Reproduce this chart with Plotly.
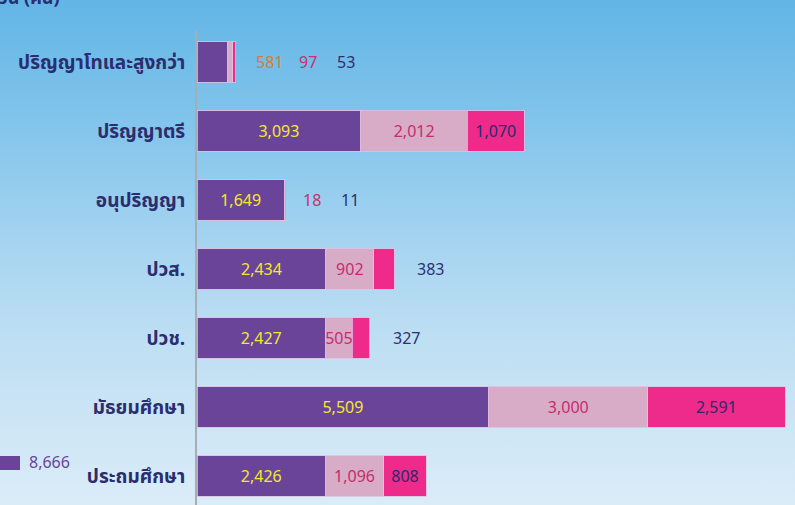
import base64
import plotly.graph_objects as go

categories = ["ปริญญาโทและสูงกว่า", "ปริญญาตรี", "อนุปริญญา", "ปวส.", "ปวช.", "มัธยมศึกษา", "ประถมศึกษา"]
series1 = [581, 3093, 1649, 2434, 2427, 5509, 2426]
series2 = [97, 2012, 18, 902, 505, 3000, 1096]
series3 = [53, 1070, 11, 383, 327, 2591, 808]
legend_value = 8666
axis_title = "จำนวน (คน)"

# labels drawn outside the bar end: (row, series)
outside = {(0, 0), (0, 1), (0, 2), (2, 1), (2, 2), (3, 2), (4, 2)}

bar_colors = ["#6a4499", "#d8abc7", "#ee2a8a"]
inside_text_colors = ["#f3e92e", "#c42e6e", "#2b2a6b"]
outside_text_colors = ["#d97a38", "#c8306c", "#2e3070"]
num_font = "Noto Sans, DejaVu Sans, sans-serif"
thai_font = "Noto Sans Thai, Noto Sans Thai Looped, Loma, Garuda, Tahoma, Noto Sans, sans-serif"

W, H = 795, 505
L, T = 197, 30
pw, ph = W - L, H - T

fig = go.Figure()
all_series = [series1, series2, series3]
for si, vals in enumerate(all_series):
    texts = ["" if (ri, si) in outside else f"{v:,}" for ri, v in enumerate(vals)]
    fig.add_trace(go.Bar(
        y=categories, x=vals, orientation="h",
        marker=dict(color=bar_colors[si], line=dict(color="rgba(225,190,225,0.8)", width=1)),
        text=texts, textposition="inside", insidetextanchor="middle",
        textangle=0, constraintext="none",
        textfont=dict(color=inside_text_colors[si], size=16, family=num_font),
        hoverinfo="skip", showlegend=False,
    ))

# outside labels, placed after the bar end
totals = [a + b + c for a, b, c in zip(series1, series2, series3)]
base_shift = {0: 34, 2: 26, 3: 36, 4: 37}
for ri in range(len(categories)):
    k = 0
    for si in range(3):
        if (ri, si) in outside:
            fig.add_annotation(
                x=totals[ri], y=categories[ri], xref="x", yref="y",
                text=f"{all_series[si][ri]:,}", showarrow=False,
                xanchor="center", xshift=base_shift.get(ri, 34) + 38 * k,
                font=dict(color=outside_text_colors[si], size=16, family=num_font),
            )
            k += 1

# gradient background as svg image
svg = f"""<svg xmlns='http://www.w3.org/2000/svg' width='{W}' height='{H}'>
<defs><linearGradient id='g' x1='0' y1='0' x2='0' y2='1'>
<stop offset='0' stop-color='#62b5e6'/>
<stop offset='0.27' stop-color='#86c6ec'/>
<stop offset='0.5' stop-color='#a8d5f1'/>
<stop offset='0.68' stop-color='#bfdff3'/>
<stop offset='1' stop-color='#dbecf8'/>
</linearGradient></defs>
<rect width='{W}' height='{H}' fill='url(#g)'/></svg>"""
src = "data:image/svg+xml;base64," + base64.b64encode(svg.encode()).decode()
fig.add_layout_image(dict(
    source=src, xref="paper", yref="paper",
    x=-L / pw, y=H / ph, sizex=W / pw, sizey=H / ph,
    sizing="stretch", layer="below", xanchor="left", yanchor="top",
))

# cut-off title at top
fig.add_annotation(
    xref="paper", yref="paper", x=(62 - L) / pw, y=1 + (T + 1) / ph,
    xanchor="right", yanchor="middle", text=f"<b>{axis_title}</b>", showarrow=False,
    font=dict(color="#2b2d6e", size=18, family=thai_font),
)

# cut-off legend fragment bottom-left
fig.add_shape(type="rect", xref="paper", yref="paper",
              x0=-L / pw, x1=(20 - L) / pw, y0=(H - 470) / ph, y1=(H - 456) / ph,
              fillcolor="#6a4499", line=dict(width=0))
fig.add_annotation(
    xref="paper", yref="paper", x=(27 - L) / pw, y=(H - 462) / ph,
    xanchor="left", yanchor="middle", text=f"{legend_value:,}", showarrow=False,
    font=dict(color="#6a4499", size=16, family=num_font),
)

# scale: 0 at pixel L, ~0.05297 px per unit
xmax = pw / (588 / 11100)
ypix0, step = 62, 69
fig.update_layout(
    width=W, height=H,
    margin=dict(l=L, r=0, t=T, b=0, pad=0),
    barmode="stack", bargap=0.42,
    paper_bgcolor="#dbecf8", plot_bgcolor="rgba(0,0,0,0)",
    xaxis=dict(range=[0, xmax], visible=False, fixedrange=True),
    yaxis=dict(
        categoryorder="array", categoryarray=categories,
        range=[(H - ypix0) / step, (T - ypix0) / step],
        showline=True, linecolor="#a7adb4", linewidth=2,
        showgrid=False, zeroline=False, ticks="", ticklabelstandoff=6,
        tickfont=dict(color="#2b2d6e", size=19, family=thai_font, weight="bold"),
    ),
    font=dict(family=thai_font),
)
fig.write_html("out.html")
